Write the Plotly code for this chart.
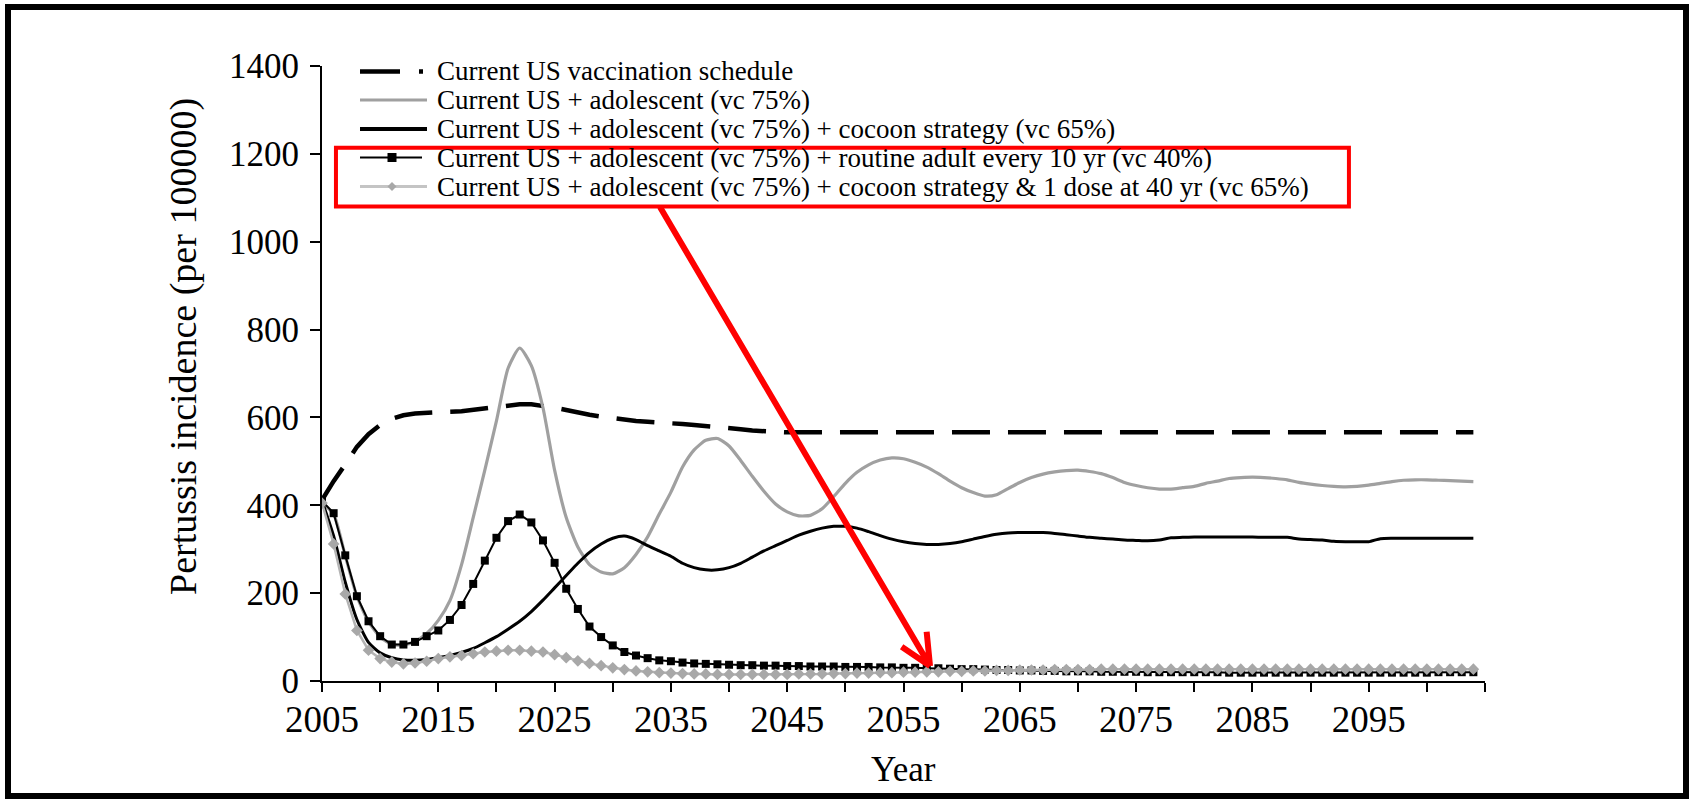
import plotly.graph_objects as go

years = list(range(2005, 2105))

current_us = [
    412, 455, 493, 533, 562, 583, 597, 605, 609, 611,
    612, 613, 614, 617, 621, 625, 628, 630, 630, 627,
    622, 617, 611, 606, 602, 598, 594, 592, 590, 589,
    587, 585, 583, 581, 579, 576, 573, 570, 568, 567,
    566, 566, 566, 566, 566, 566, 566, 566, 566, 566,
    566, 566, 566, 566, 566, 566, 566, 566, 566, 566,
    566, 566, 566, 566, 566, 566, 566, 566, 566, 566,
    566, 566, 566, 566, 566, 566, 566, 566, 566, 566,
    566, 566, 566, 566, 566, 566, 566, 566, 566, 566,
    566, 566, 566, 566, 566, 566, 566, 566, 566, 566,
]

adolescent = [
    405, 380, 285, 193, 135, 100, 83, 82, 90, 108,
    138, 183, 265, 372, 480, 592, 712, 758, 718, 622,
    480, 372, 305, 265, 248, 244, 258, 288, 328, 380,
    430, 487, 526, 548, 552, 535, 502, 466, 432, 403,
    385, 376, 377, 392, 420, 450, 475, 492, 503, 508,
    506, 498, 487, 472, 455, 440, 429, 421, 424, 438,
    452, 463, 471, 476, 479, 480, 477, 472, 463, 452,
    445, 440, 437, 437, 440, 443, 450, 455, 461, 463,
    464, 463, 461, 458, 452, 448, 445, 443, 442, 443,
    446, 450, 454, 457, 458, 458, 457, 456, 455, 454,
]

cocoon = [
    410, 330, 225, 140, 88, 64, 53, 48, 47, 49,
    53, 58, 65, 74, 87, 101, 118, 136, 158, 184,
    212, 240, 268, 293, 312, 325, 330, 322, 308, 296,
    284, 268, 258, 253, 253, 258, 268, 282, 296, 308,
    320, 332, 341, 348, 352, 352, 348, 340, 331, 323,
    317, 313, 311, 311, 313, 317, 323, 329, 334, 337,
    338, 338, 338, 336, 333, 330, 327, 325, 323, 321,
    320, 319, 321, 326, 327, 328, 328, 328, 328, 328,
    328, 327, 327, 327, 323, 322, 321, 318, 317, 317,
    317, 324, 325, 325, 325, 325, 325, 325, 325, 325,
]

routine_adult = [
    410, 382, 286, 193, 136, 102, 83, 83, 89, 102,
    115, 139, 173, 221, 274, 326, 364, 379, 361, 320,
    269, 210, 164, 124, 100, 81, 66, 58, 52, 47,
    45, 42, 40, 39, 38, 37, 36, 36, 35, 35,
    34, 34, 33, 33, 33, 32, 32, 32, 31, 31,
    30, 30, 29, 29, 28, 27, 27, 26, 25, 25,
    24, 24, 23, 23, 22, 22, 22, 21, 21, 21,
    21, 20, 20, 20, 20, 20, 20, 20, 19, 19,
    19, 19, 19, 19, 19, 19, 19, 19, 19, 19,
    19, 19, 19, 19, 19, 19, 20, 20, 20, 20,
]

cocoon_dose40 = [
    405, 312, 198, 115, 70, 51, 43, 39, 41, 45,
    51, 55, 58, 62, 66, 68, 70, 70, 68, 66,
    60, 53, 46, 40, 35, 30, 26, 23, 21, 19,
    18, 17, 16, 16, 15, 15, 15, 15, 15, 15,
    15, 16, 16, 16, 17, 17, 18, 18, 19, 19,
    20, 20, 21, 21, 22, 22, 23, 23, 24, 24,
    25, 25, 25, 26, 26, 26, 26, 27, 27, 27,
    27, 27, 27, 27, 27, 27, 27, 27, 27, 27,
    27, 27, 27, 27, 27, 27, 27, 27, 27, 27,
    27, 27, 27, 27, 27, 27, 27, 27, 27, 27,
]

names = [
    "Current US vaccination schedule",
    "Current US + adolescent (vc 75%)",
    "Current US + adolescent (vc 75%) + cocoon strategy (vc 65%)",
    "Current US + adolescent (vc 75%) + routine adult every 10 yr (vc 40%)",
    "Current US + adolescent (vc 75%) + cocoon strategy & 1 dose at 40 yr (vc 65%)",
]

x_tick_vals = list(range(2005, 2106, 5))
x_tick_text = ["2005", "", "2015", "", "2025", "", "2035", "", "2045", "", "2055", "",
               "2065", "", "2075", "", "2085", "", "2095", "", ""]
y_tick_vals = [0, 200, 400, 600, 800, 1000, 1200, 1400]

FONT = "Liberation Serif, Times New Roman, serif"
GREY = "#a0a0a0"
LIGHT_GREY = "#b4b4b4"

fig = go.Figure()
fig.add_trace(go.Scatter(x=years, y=current_us, name=names[0], mode="lines",
                         line=dict(color="black", width=4.5, dash="38px,18px")))
fig.add_trace(go.Scatter(x=years, y=adolescent, name=names[1], mode="lines",
                         line=dict(color=GREY, width=3.2, shape="spline", smoothing=0.6)))
fig.add_trace(go.Scatter(x=years, y=cocoon, name=names[2], mode="lines",
                         line=dict(color="black", width=3, shape="spline", smoothing=0.6)))
fig.add_trace(go.Scatter(x=years, y=routine_adult, name=names[3], mode="lines+markers",
                         line=dict(color="black", width=2),
                         marker=dict(symbol="square", size=8, color="black")))
fig.add_trace(go.Scatter(x=years, y=cocoon_dose40, name=names[4], mode="lines+markers",
                         line=dict(color=LIGHT_GREY, width=2.5),
                         marker=dict(symbol="diamond", size=9, color="#a8a8a8")))

# plot area geometry in pixels: x 322..1485, y 66..681
L, R, T, B = 322, 1485, 66, 681
W, H = 1690, 799

def px_x(p):
    return (p - L) / (R - L)

def px_y(p):
    return (B - p) / (B - T)

shapes = [
    # outer frame
    dict(type="rect", xref="paper", yref="paper",
         x0=px_x(8), x1=px_x(1686), y0=px_y(796), y1=px_y(7),
         line=dict(color="black", width=6), fillcolor="rgba(0,0,0,0)", layer="above"),
    # red highlight box
    dict(type="rect", xref="x", yref="y", x0=2006.2, x1=2093.3, y0=1080, y1=1214,
         line=dict(color="#ff0000", width=4), fillcolor="rgba(0,0,0,0)", layer="above"),
    # red arrow
    dict(type="path", xref="x", yref="y",
         path="M 2034.06 1079 L 2057.28 34 M 2056.99 112 L 2057.28 34 M 2054.84 78 L 2057.28 34",
         line=dict(color="#ff0000", width=6), layer="above"),
]

# legend drawn inside the plot, Excel style
rows = [71.5, 100, 129, 157.5, 186.5]
s0, s1 = 360, 427
legend_styles = [
    dict(color="black", width=4.5, dash="40px,19px", end=423),
    dict(color=GREY, width=3, dash="solid", end=s1),
    dict(color="black", width=4, dash="solid", end=s1),
    dict(color="black", width=2, dash="solid", end=422),
    dict(color="#c4c4c4", width=3, dash="solid", end=s1),
]
annotations = []
for r, st, nm in zip(rows, legend_styles, names):
    shapes.append(dict(type="line", xref="paper", yref="paper",
                       x0=px_x(s0), x1=px_x(st["end"]), y0=px_y(r), y1=px_y(r),
                       line=dict(color=st["color"], width=st["width"], dash=st["dash"])))
    annotations.append(dict(text=nm, xref="paper", yref="paper", x=px_x(435), y=px_y(r),
                            xanchor="left", yanchor="middle", showarrow=False,
                            font=dict(family=FONT, size=27, color="black")))
# square marker sample
mx = 392
shapes.append(dict(type="rect", xref="paper", yref="paper",
                   x0=px_x(mx - 4.5), x1=px_x(mx + 4.5), y0=px_y(rows[3] + 4.5), y1=px_y(rows[3] - 4.5),
                   fillcolor="black", line=dict(width=0)))
# diamond marker sample
r4 = rows[4]
shapes.append(dict(type="path", xref="paper", yref="paper",
                   path=(f"M {px_x(mx - 4.5)} {px_y(r4)} L {px_x(mx)} {px_y(r4 - 4.5)} "
                         f"L {px_x(mx + 4.5)} {px_y(r4)} L {px_x(mx)} {px_y(r4 + 4.5)} Z"),
                   fillcolor="#a8a8a8", line=dict(width=0)))

annotations += [
    dict(text="Pertussis incidence (per 100000)", xref="paper", yref="paper",
         x=px_x(183), y=px_y(347), textangle=-90, showarrow=False,
         xanchor="center", yanchor="middle",
         font=dict(family=FONT, size=38, color="black")),
    dict(text="Year", xref="paper", yref="paper", x=px_x(903), y=px_y(769),
         showarrow=False, xanchor="center", yanchor="middle",
         font=dict(family=FONT, size=35, color="black")),
]

fig.update_layout(
    width=W, height=H, autosize=False,
    margin=dict(l=L, r=W - R, t=T, b=H - B, pad=0),
    paper_bgcolor="white", plot_bgcolor="white",
    font=dict(family=FONT, color="black", size=34),
    showlegend=False,
    shapes=shapes,
    annotations=annotations,
    xaxis=dict(range=[2005, 2105], tickmode="array", tickvals=x_tick_vals, ticktext=x_tick_text,
               showline=True, linecolor="black", linewidth=2, ticks="outside", ticklen=9,
               tickwidth=2, tickcolor="black", showgrid=False, zeroline=False, automargin=False,
               tickfont=dict(family=FONT, size=37, color="black"), ticklabelstandoff=-4),
    yaxis=dict(range=[0, 1400], tickmode="array", tickvals=y_tick_vals,
               showline=True, linecolor="black", linewidth=2, ticks="outside", ticklen=10,
               tickwidth=2, tickcolor="black", showgrid=False, zeroline=False, automargin=False,
               tickfont=dict(family=FONT, size=35, color="black"), ticklabelstandoff=4),
)

fig.write_html("out.html", config={"displayModeBar": False},
               post_script="document.body.style.margin='0px';")
